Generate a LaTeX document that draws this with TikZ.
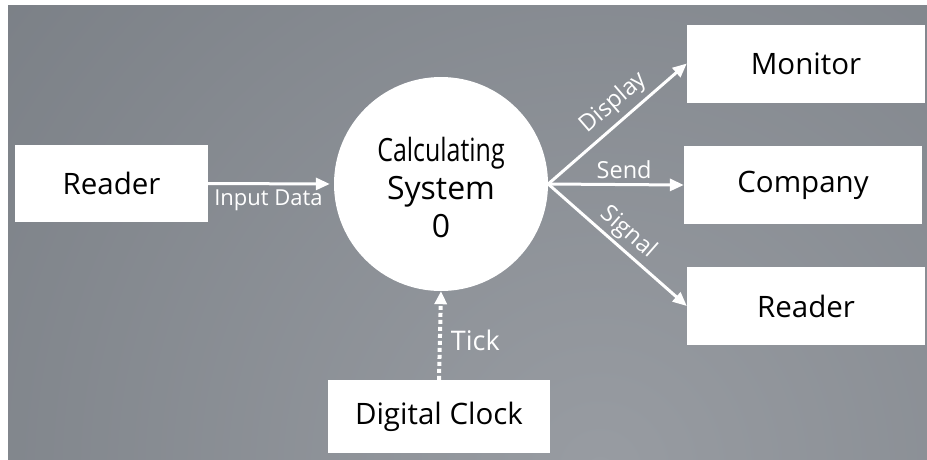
\documentclass[tikz,border=0pt]{standalone}
\usepackage{fontspec}
\usepackage{graphicx}
\setmainfont{Open Sans}
\usetikzlibrary{arrows.meta}
\definecolor{bgL}{RGB}{152,156,162}
\definecolor{bgD}{RGB}{92,98,105}
\pgfdeclareradialshading{bgshade}{\pgfpoint{0bp}{0bp}}{color(0bp)=(bgL); color(50bp)=(bgD)}
\tikzset{
  box/.style={draw=none, fill=white, rectangle, minimum width=238pt, minimum height=78pt, inner sep=0pt, font=\fontsize{29.5}{32}\selectfont, text=black},
  proc/.style={fill=white, circle, minimum size=214pt, inner sep=0pt},
  flow/.style={draw=white, line width=3pt, -{Triangle[length=14pt,width=12pt]}},
  tickflow/.style={draw=white, line width=4pt, dash pattern=on 4pt off 3pt, -{Triangle[length=13pt,width=12pt]}},
  lbl/.style={text=white, font=\fontsize{23.5}{26}\selectfont, inner sep=1pt}
}
\begin{document}
\begin{tikzpicture}[x=1pt,y=1pt]
\useasboundingbox (0,0) rectangle (927,-459);
\fill[white] (0,0) rectangle (927,-459);
\begin{scope}
\clip (8,-5) rectangle (927,-459);
\shade[shading=bgshade] (600,-470) circle (800);
\end{scope}
\node[box, minimum width=193pt, minimum height=77pt] (rdr) at (111.5,-183.5) {Reader};
\node[proc] (sys) at (441,-184) {};
\node[align=center, font=\fontsize{32}{38}\selectfont, text=black] (systxt) at (441,-187) {\scalebox{0.78}[1]{Calculating}\\System\\0};
\node[box] (mon) at (806,-63.5) {Monitor};
\node[box] (comp) at (803,-185) {Company};
\node[box] (rdr2) at (806,-306) {Reader};
\node[box, minimum width=222pt, minimum height=73pt] (clk) at (439,-416.5) {Digital Clock};
\draw[flow, shorten >=4pt] (rdr.east) -- (sys.west) node[lbl, font=\fontsize{22}{24}\selectfont, pos=0.48, below=4pt] (lin) {Input Data};
\draw[flow] (sys.east) -- (mon.west) node[lbl, pos=0.56, sloped, above=4pt] (ldisp) {Display};
\draw[flow] (sys.east) -- (comp.west) node[lbl, pos=0.56, above=3pt] (lsend) {Send};
\draw[flow] (sys.east) -- (rdr2.west) node[lbl, pos=0.5, sloped, above=2pt] (lsig) {Signal};
\draw[tickflow] (clk.north) -- (sys.south) node[lbl, font=\fontsize{27}{30}\selectfont, pos=0.45, right=8pt] (ltick) {Tick};
\end{tikzpicture}
\end{document}
